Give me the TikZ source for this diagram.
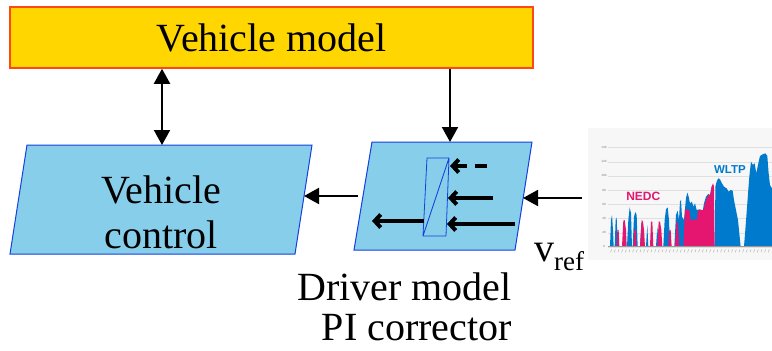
\documentclass[tikz,border=0pt]{standalone}
\usepackage{fontspec}
\setmainfont{Liberation Serif}
\newfontfamily\chartfont{Liberation Sans}
\usetikzlibrary{arrows.meta,positioning,calc}
\definecolor{vmyellow}{RGB}{255,214,0}
\definecolor{vmorange}{RGB}{255,72,24}
\definecolor{ctrlblue}{RGB}{135,206,235}
\definecolor{edgeblue}{RGB}{20,64,220}
\definecolor{nedcpink}{RGB}{228,22,112}
\definecolor{wltpblue}{RGB}{0,122,204}
\newcommand{\bigfont}{\fontsize{40}{45}\selectfont}
\tikzset{bigtip/.tip={Triangle[length=15pt,width=16pt]}}

\begin{document}
\begin{tikzpicture}[x=1pt, y=-1pt, font=\bigfont,
  link/.style={line width=2pt, -bigtip},
  flow/.style={line width=4pt, -{Straight Barb[length=6pt,width=13pt]}},
  block/.style={draw=edgeblue, fill=ctrlblue, line width=1pt}]
  \useasboundingbox (0,0) rectangle (772,351);
  % Vehicle model block
  \node[draw=vmorange, fill=vmyellow, line width=1.5pt, inner sep=0pt,
    minimum width=523pt, minimum height=61pt] (vm) at (271.5,37.5) {Vehicle model};
  % Vehicle control block
  \draw[block] (27,145) -- (312,145) -- (295,254) -- (10,254) -- cycle;
  \node[align=center, inner sep=0pt] (vc) at (161,212) {Vehicle\\control};
  \coordinate (vcT) at (162,145);
  \coordinate (vcR) at (304,196);
  % Driver model block with PI element
  \draw[block] (372,142) -- (532,142) -- (515,250) -- (354,250) -- cycle;
  \coordinate (drvT) at (450,142);
  \coordinate (drvL) at (358,196);
  \coordinate (drvR) at (523,198);
  \draw[edgeblue, line width=0.8pt] (427,158) -- (449,158) -- (446,236) -- (423,236) -- cycle
    (423,236) -- (449,158);
  \coordinate (pi1) at (450,166);
  \coordinate (pi2) at (448,198);
  \coordinate (pi3) at (447,224);
  \coordinate (piL) at (424,221);
  \coordinate (in1) at (487,166);
  \coordinate (in2) at (493,198);
  \coordinate (in3) at (515,224);
  \coordinate (out) at (372,221);
  \draw[flow, dash pattern=on 12pt off 8pt] (in1) -- (pi1);
  \draw[flow] (in2) -- (pi2);
  \draw[flow] (in3) -- (pi3);
  \draw[flow] (piL) -- (out);
  \node[align=right, anchor=east, inner sep=0pt, font=\fontsize{40}{40}\selectfont]
    (drvtxt) at (512,306.5) {Driver model\\PI corrector};
  % Connectors
  \draw[link, bigtip-bigtip] (vm.south -| vcT) -- (vcT);
  \draw[link] (vm.south -| drvT) -- (drvT);
  \draw[link] (drvL) -- (vcR);
  \coordinate (cyc) at (582,198);
  \draw[link] (cyc) -- (drvR);
  \node[anchor=base west, inner sep=0pt] (vref) at (534,261)
    {v\raisebox{-9pt}{\fontsize{27}{30}\selectfont ref}};
  % Driving cycle chart
  \begin{scope}[shift={(580,120)}, x=0.3333pt, y=-0.3333pt]
    \fill[black!3] (25,25) rectangle (576,420);
    \foreach \v/\zy in {0/380,20/338,40/295,60/252,80/210,100/167,120/125,140/82} {
      \draw[black!12, line width=0.3pt] (85,\zy) -- (576,\zy);
      \node[black!55, font=\chartfont\fontsize{3}{3}\selectfont, inner sep=0pt]
        (tick\v) at (72,\zy) {\v};
    }
    \foreach \zx in {95,106,...,575}
      \draw[black!35, line width=0.4pt] (\zx,388) -- ++(-3,9);
    \fill[wltpblue]
      (90,380) -- (93,300) -- (96,286) -- (99,330) -- (101,380) -- cycle
      (104,380) -- (107,300) -- (110,292) -- (113,380) -- cycle
      (141,380) -- (145,300) -- (149,262) -- (153,280) -- (156,380) -- cycle
      (158,380) -- (162,290) -- (166,276) -- (170,285) -- (173,380) -- cycle
      (180,380) -- (184,310) -- (188,305) -- (191,380) -- cycle
      (198,380) -- (202,315) -- (205,380) -- cycle
      (228,380) -- (232,320) -- (236,380) -- cycle
      (250,380) -- (254,300) -- (258,268) -- (263,262) -- (267,300) -- (270,380) -- cycle
      (283,380) -- (288,285) -- (293,272) -- (297,300) -- (300,245) -- (303,240)
        -- (306,290) -- (312,300) -- (318,235) -- (322,218) -- (326,230) -- (330,250)
        -- (336,245) -- (340,260) -- (345,250) -- (350,270) -- (360,268) -- (368,275)
        -- (372,250) -- (378,230) -- (385,222) -- (390,225) -- (395,200) -- (400,195)
        -- (403,380) -- cycle
      (405,380) -- (406,200) -- (410,185) -- (415,175) -- (420,178) -- (426,190)
        -- (432,200) -- (440,205) -- (446,215) -- (452,210) -- (458,212) -- (462,240)
        -- (468,270) -- (474,300) -- (478,340) -- (482,380) -- cycle
      (492,380) -- (496,330) -- (502,250) -- (508,170) -- (513,125) -- (519,135)
        -- (524,130) -- (529,160) -- (534,135) -- (540,108) -- (548,103) -- (556,100)
        -- (562,108) -- (566,160) -- (570,195) -- (576,205) -- (576,380) -- cycle;
    \fill[nedcpink]
      (110,380) -- (112,330) -- (116,330) -- (118,380) -- cycle
      (126,380) -- (130,302) -- (134,300) -- (138,330) -- (140,380) -- cycle
      (160,380) -- (163,330) -- (167,330) -- (170,380) -- cycle
      (180,380) -- (185,300) -- (189,305) -- (192,330) -- (195,380) -- cycle
      (210,380) -- (213,305) -- (217,305) -- (220,380) -- cycle
      (232,380) -- (236,305) -- (240,305) -- (244,330) -- (247,380) -- cycle
      (265,380) -- (268,330) -- (272,330) -- (275,380) -- cycle
      (285,380) -- (290,305) -- (294,305) -- (298,380) -- cycle
      (310,380) -- (315,270) -- (322,268) -- (328,270) -- (332,300) -- (350,300)
        -- (355,270) -- (370,270) -- (378,240) -- (385,225) -- (391,224) -- (395,200)
        -- (399,190) -- (402,200) -- (404,380) -- cycle;
    \draw[black!40, line width=0.4pt] (85,380) -- (576,380);
    \node[nedcpink, font=\chartfont\bfseries\fontsize{12}{12}\selectfont] (nedc) at (190,230) {NEDC};
    \node[wltpblue, font=\chartfont\bfseries\fontsize{11.5}{12}\selectfont] (wltp) at (450,148) {WLTP};
  \end{scope}
\end{tikzpicture}
\end{document}
